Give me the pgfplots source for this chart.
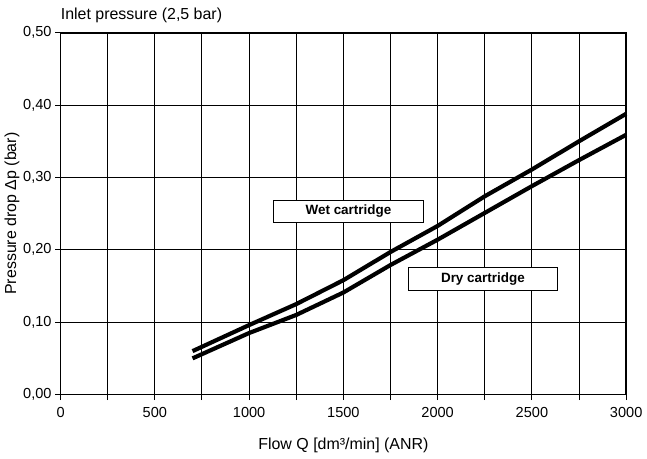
\documentclass[border=0pt]{standalone}
\usepackage{fontspec}
\setmainfont{Liberation Sans}
\usepackage{pgfplots}
\pgfplotsset{compat=1.18}

\begin{document}
\begin{tikzpicture}
\begin{axis}[
    scale only axis,
    width=408pt, height=261pt,
    xmin=0, xmax=3000, ymin=0, ymax=0.5,
    xtick={0,500,...,3000},
    minor xtick={250,750,...,2750},
    ytick={0,0.1,...,0.5},
    grid=both,
    major grid style={black, line width=0.7pt},
    minor grid style={black, line width=0.7pt},
    axis line style={black, line width=1.3pt},
    tick style={black, line width=0.7pt},
    major tick length=4pt, minor tick length=4pt,
    tick align=outside,
    xtick pos=bottom, ytick pos=left,
    tick label style={font=\fontsize{10.5}{12}\selectfont},
    /pgf/number format/assume math mode=true,
    xticklabel style={/pgf/number format/1000 sep={}, yshift=-2pt},
    yticklabel style={xshift=1pt, /pgf/number format/.cd, use comma, fixed, fixed zerofill, precision=2},
    scaled y ticks=false,
    xlabel={Flow Q [dm³/min] (ANR)},
    ylabel={Pressure drop Δp (bar)},
    label style={font=\fontsize{11.5}{13}\selectfont},
    xlabel style={at={(axis description cs:0.5,0)}, anchor=center, yshift=-37pt},
    ylabel style={at={(axis description cs:0,0.5)}, anchor=center, yshift=35pt},
    clip=false,
]
\addplot[black, line width=3pt] coordinates {
    (700,0.060) (1000,0.096) (1250,0.125) (1500,0.158) (1750,0.197)
    (2000,0.233) (2250,0.274) (2500,0.311) (2750,0.350) (3000,0.388)};
\addplot[black, line width=3pt] coordinates {
    (700,0.050) (1000,0.085) (1250,0.110) (1500,0.141) (1750,0.179)
    (2000,0.214) (2250,0.251) (2500,0.288) (2750,0.324) (3000,0.359)};
\node[draw=black, fill=white, line width=0.6pt, minimum width=108pt, minimum height=16.4pt,
      inner sep=0pt, font=\fontsize{9.7}{11}\selectfont\bfseries] at (axis cs:1527,0.253) {Wet cartridge};
\node[draw=black, fill=white, line width=0.6pt, minimum width=108pt, minimum height=16.4pt,
      inner sep=0pt, font=\fontsize{9.7}{11}\selectfont\bfseries] at (axis cs:2240,0.160) {Dry cartridge};
\node[anchor=base west, inner sep=0pt, font=\fontsize{11.5}{13}\selectfont] at ([yshift=9.3pt]rel axis cs:0,1) {Inlet pressure (2,5 bar)};
\coordinate (BL) at (rel axis cs:0,0);
\coordinate (TR) at (rel axis cs:1,1);
\end{axis}
\path ([shift={(-43.6pt,-46.4pt)}]BL) rectangle ([shift={(10.7pt,23.6pt)}]TR);
\end{tikzpicture}
\end{document}
